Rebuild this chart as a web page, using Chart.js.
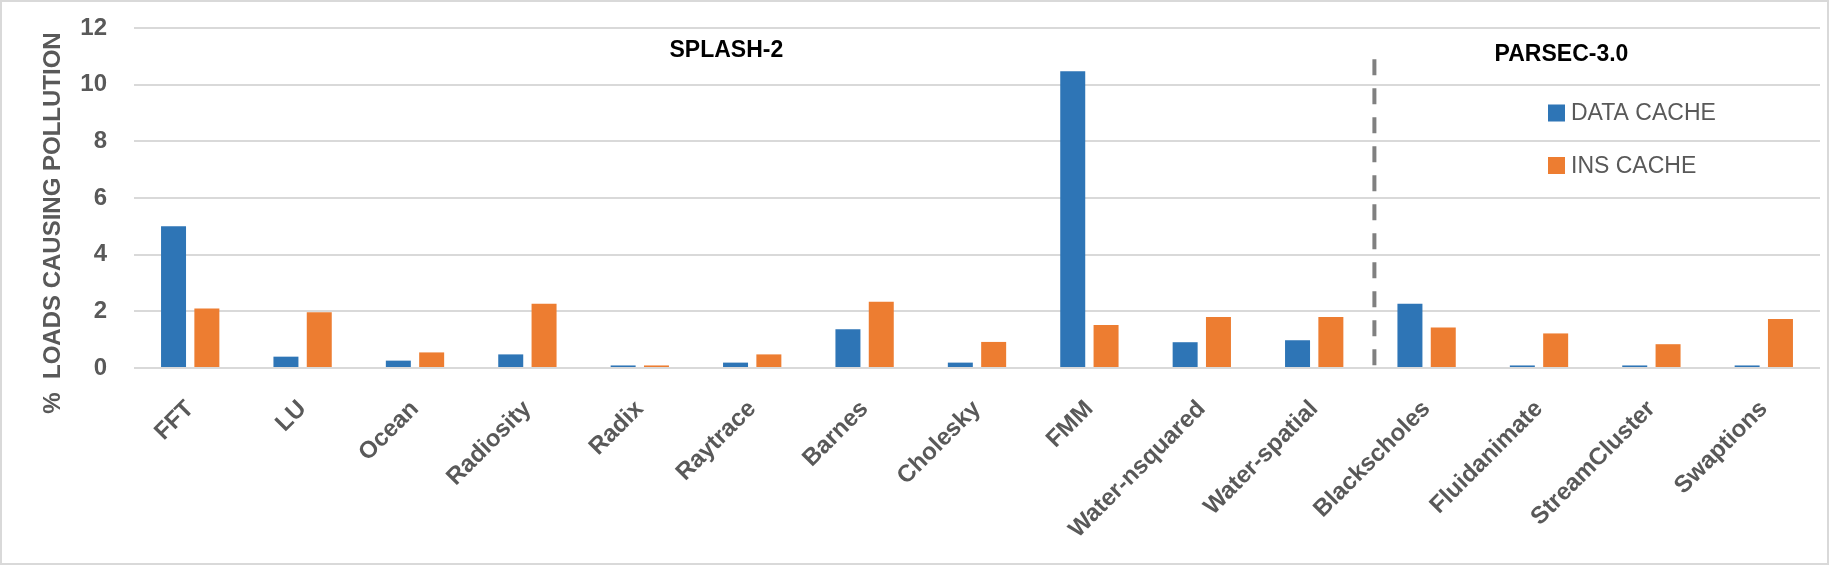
<!DOCTYPE html>
<html>
<head>
<meta charset="utf-8">
<script src="https://cdn.jsdelivr.net/npm/chart.js@4/dist/chart.umd.min.js"></script>
<style>
  html, body { margin: 0; padding: 0; background: #fff; }
  #wrap { width: 1829px; height: 565px; position: relative; }
</style>
</head>
<body>
<div id="wrap"><canvas id="chart" width="1829" height="565"></canvas></div>
<script>
const benchmarks = [
  "FFT", "LU", "Ocean", "Radiosity", "Radix", "Raytrace", "Barnes",
  "Cholesky", "FMM", "Water-nsquared", "Water-spatial",
  "Blackscholes", "Fluidanimate", "StreamCluster", "Swaptions"
]

const dataCache = [
  5.0, 0.4, 0.26, 0.48, 0.09, 0.19, 1.37,
  0.19, 10.47, 0.91, 0.98,
  2.27, 0.09, 0.09, 0.09
]

const insCache = [
  2.1, 1.97, 0.55, 2.27, 0.09, 0.48, 2.34,
  0.92, 1.52, 1.8, 1.8,
  1.43, 1.22, 0.84, 1.73
]

const yTicks = [0, 2, 4, 6, 8, 10, 12]

const suiteLabels = ["SPLASH-2", "PARSEC-3.0"]

const BLUE = "#2E75B6"
const ORANGE = "#ED7D31"
const GRAY = "#595959"
const FONT = "'Liberation Sans', Arial, sans-serif"


/* ===== extras: border, axis title, suites, divider, legend ===== */

const extras = {
  id: "extras",
  afterDraw(chart) {
    const ctx = chart.ctx
    const area = chart.chartArea
    const x = chart.scales.x
    const y = chart.scales.y

    ctx.save()

    // outer frame
    ctx.strokeStyle = "#d9d9d9"
    ctx.lineWidth = 2
    ctx.strokeRect(1, 1, chart.width - 2, chart.height - 2)

    // y axis title
    ctx.fillStyle = GRAY
    ctx.font = "bold 24px " + FONT
    ctx.textAlign = "center"
    ctx.textBaseline = "middle"
    ctx.translate(53, 223)
    ctx.rotate(-Math.PI / 2)
    ctx.fillText("%  LOADS CAUSING POLLUTION", 0, 0)
    ctx.setTransform(1, 0, 0, 1, 0, 0)

    // suite names
    const step = x.getPixelForValue(1) - x.getPixelForValue(0)
    ctx.fillStyle = "#000"
    ctx.font = "bold 23px " + FONT
    ctx.fillText(suiteLabels[0], x.getPixelForValue(4) + 0.77 * step, y.getPixelForValue(11.2))
    ctx.fillText(suiteLabels[1], x.getPixelForValue(12) + 0.2 * step, y.getPixelForValue(11.05))

    // divider between suites
    const divX = (x.getPixelForValue(10) + x.getPixelForValue(11)) / 2 + 4
    ctx.strokeStyle = "#808080"
    ctx.lineWidth = 4
    ctx.setLineDash([16, 13])
    ctx.beginPath()
    ctx.moveTo(divX, y.getPixelForValue(10.9))
    ctx.lineTo(divX, y.getPixelForValue(0))
    ctx.stroke()
    ctx.setLineDash([])

    // legend
    ctx.font = "23px " + FONT
    ctx.textAlign = "left"
    chart.data.datasets.forEach((ds, i) => {
      const ly = area.top + 85 + i * 52.5
      ctx.fillStyle = ds.backgroundColor
      ctx.fillRect(1548, ly - 8.5, 17, 17)
      ctx.fillStyle = GRAY
      ctx.fillText(ds.label, 1571, ly + 1)
    })

    ctx.restore()
  }
}


/* ===== chart ===== */

const ctx = document.getElementById("chart").getContext("2d")

new Chart(ctx, {
  type: "bar",
  data: {
    labels: benchmarks,
    datasets: [
      {
        label: "DATA CACHE",
        data: dataCache,
        backgroundColor: BLUE,
        categoryPercentage: 0.593,
        barPercentage: 0.75
      },
      {
        label: "INS CACHE",
        data: insCache,
        backgroundColor: ORANGE,
        categoryPercentage: 0.593,
        barPercentage: 0.75
      }
    ]
  },
  options: {
    responsive: false,
    animation: false,
    layout: {
      padding: { top: 0, right: 9, left: 0, bottom: 0 }
    },
    plugins: {
      legend: { display: false },
      tooltip: { enabled: false }
    },
    scales: {
      x: {
        grid: { display: false, drawTicks: false },
        border: { display: false },
        ticks: {
          color: GRAY,
          font: { family: FONT, size: 24, weight: "bold" },
          minRotation: 45,
          maxRotation: 45,
          padding: 27
        },
        afterFit(scale) { scale.height = 565 - 368 }
      },
      y: {
        min: 0,
        max: 12,
        afterBuildTicks(scale) {
          scale.ticks = yTicks.map(v => ({ value: v }))
        },
        grid: { color: "#d9d9d9", lineWidth: 2, drawTicks: false },
        border: { display: false },
        ticks: {
          color: GRAY,
          font: { family: FONT, size: 24, weight: "bold" },
          padding: 27
        },
        afterFit(scale) {
          scale.width = 134
          scale.paddingTop = 28
          scale.paddingBottom = 0
        }
      }
    }
  },
  plugins: [extras]
})
</script>
</body>
</html>
